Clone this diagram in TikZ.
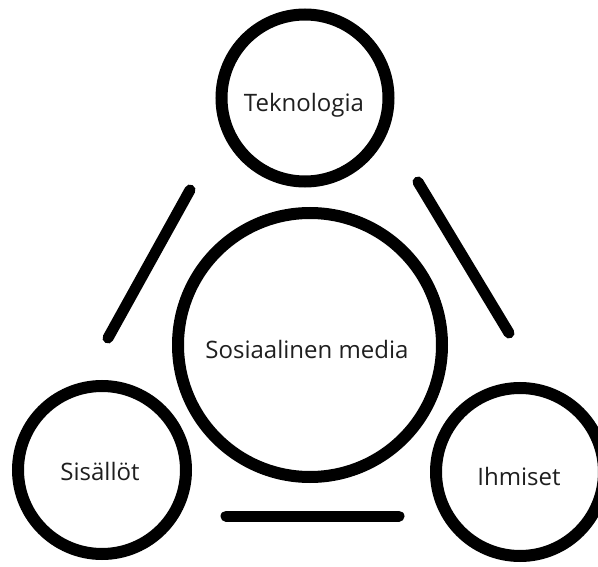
\documentclass[tikz,border=0pt]{standalone}
\usepackage{fontspec}
\setmainfont{Open Sans}
\begin{document}
\begin{tikzpicture}[x=1pt,y=-1pt,
  ring/.style={draw=black,line width=12pt,circle,inner sep=0pt,fill=none},
  lbl/.style={font=\fontsize{24}{28}\selectfont,text=black!88,anchor=base,inner sep=0pt},
  bar/.style={line width=11pt,line cap=round,draw=black}]
\useasboundingbox[fill=white] (0,0) rectangle (598,567);
\node[ring,minimum size=167pt] (tek) at (305,98) {};
\node[ring,minimum size=264pt] (som) at (310,345) {};
\node[ring,minimum size=168pt] (sis) at (102,470) {};
\node[ring,minimum size=168pt] (ihm) at (520,472) {};
\node[lbl] (tekt) at (304,112) {Teknologia};
\node[lbl] (somt) at (307,358) {Sosiaalinen media};
\node[lbl] (sist) at (100,480) {Sisällöt};
\node[lbl] (ihmt) at (519,485) {Ihmiset};
\coordinate (l1) at (190,190);
\coordinate (l2) at (108,338);
\coordinate (r1) at (418,182);
\coordinate (r2) at (509,333);
\coordinate (b1) at (226,516);
\coordinate (b2) at (399,516);
\draw[bar] (l1) -- (l2);
\draw[bar] (r1) -- (r2);
\draw[bar] (b1) -- (b2);
\end{tikzpicture}
\end{document}
